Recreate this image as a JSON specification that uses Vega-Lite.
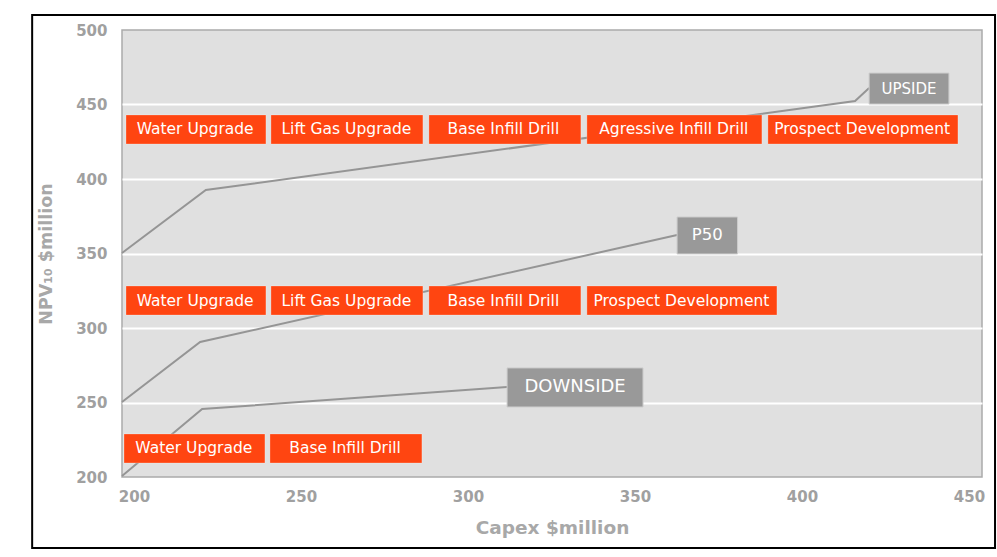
{
  "$schema": "https://vega.github.io/schema/vega-lite/v6.json",
  "width": 860,
  "height": 447,
  "autosize": {"type": "none"},
  "padding": {"left": 122, "top": 30, "right": 15, "bottom": 80},
  "background": "white",
  "config": {
    "view": {"fill": "#e0e0e0", "stroke": "#aaaaaa", "strokeWidth": 1.5},
    "font": "DejaVu Sans"
  },
  "datasets": {
    "frame": [{"x": 169.5, "x2": 457.8, "y": 152.3, "y2": 510.1}],
    "curves": [
      {"scenario": "UPSIDE", "x": 196.4, "y": 350.3},
      {"scenario": "UPSIDE", "x": 221.5, "y": 392.6},
      {"scenario": "UPSIDE", "x": 415.9, "y": 452.3},
      {"scenario": "UPSIDE", "x": 420.1, "y": 461.1},
      {"scenario": "P50", "x": 196.4, "y": 250.3},
      {"scenario": "P50", "x": 219.8, "y": 290.6},
      {"scenario": "P50", "x": 362.6, "y": 362.4},
      {"scenario": "DOWNSIDE", "x": 196.4, "y": 200.7},
      {"scenario": "DOWNSIDE", "x": 220.4, "y": 245.6},
      {"scenario": "DOWNSIDE", "x": 311.7, "y": 260.4}
    ],
    "tasks": [
      {"scenario": "UPSIDE", "task": "Water Upgrade", "x": 197.6, "x2": 239.5, "y": 423.5, "y2": 443.0, "xc": 218.3, "yc": 433.25},
      {"scenario": "UPSIDE", "task": "Lift Gas Upgrade", "x": 241.0, "x2": 286.5, "y": 423.5, "y2": 443.0, "xc": 263.6, "yc": 433.25},
      {"scenario": "UPSIDE", "task": "Base Infill Drill", "x": 288.3, "x2": 333.8, "y": 423.5, "y2": 443.0, "xc": 310.6, "yc": 433.25},
      {"scenario": "UPSIDE", "task": "Agressive Infill Drill", "x": 335.6, "x2": 388.0, "y": 423.5, "y2": 443.0, "xc": 361.6, "yc": 433.25},
      {"scenario": "UPSIDE", "task": "Prospect Development", "x": 389.8, "x2": 446.7, "y": 423.5, "y2": 443.0, "xc": 418.0, "yc": 433.25},
      {"scenario": "P50", "task": "Water Upgrade", "x": 197.6, "x2": 239.5, "y": 308.7, "y2": 328.2, "xc": 218.3, "yc": 318.45},
      {"scenario": "P50", "task": "Lift Gas Upgrade", "x": 241.0, "x2": 286.5, "y": 308.7, "y2": 328.2, "xc": 263.6, "yc": 318.45},
      {"scenario": "P50", "task": "Base Infill Drill", "x": 288.3, "x2": 333.8, "y": 308.7, "y2": 328.2, "xc": 310.6, "yc": 318.45},
      {"scenario": "P50", "task": "Prospect Development", "x": 335.6, "x2": 392.5, "y": 308.7, "y2": 328.2, "xc": 363.9, "yc": 318.45},
      {"scenario": "DOWNSIDE", "task": "Water Upgrade", "x": 197.0, "x2": 239.2, "y": 209.4, "y2": 228.9, "xc": 217.9, "yc": 219.15},
      {"scenario": "DOWNSIDE", "task": "Base Infill Drill", "x": 240.7, "x2": 286.2, "y": 209.4, "y2": 228.9, "xc": 263.2, "yc": 219.15}
    ],
    "labels": [
      {"scenario": "UPSIDE", "x": 420.1, "x2": 444.0, "y": 450.3, "y2": 471.1, "xc": 432.05, "yc": 460.7},
      {"scenario": "P50", "x": 362.6, "x2": 380.7, "y": 349.7, "y2": 374.5, "xc": 371.65, "yc": 362.1},
      {"scenario": "DOWNSIDE", "x": 311.7, "x2": 352.4, "y": 247.0, "y2": 273.2, "xc": 332.05, "yc": 260.1}
    ]
  },
  "encoding": {
    "x": {
      "field": "x", "type": "quantitative", "title": "Capex $million",
      "scale": {"domain": [196.4, 453.9], "nice": false, "zero": false},
      "axis": {"values": [200, 250, 300, 350, 400, 450], "grid": false, "ticks": false, "domain": false,
        "labelFont": "DejaVu Sans", "labelFontSize": 15, "labelFontWeight": "bold", "labelColor": "#a0a0a0", "labelPadding": 12,
        "titleFont": "DejaVu Sans", "titleFontSize": 18.5, "titleFontWeight": "bold", "titleColor": "#a8a8a8", "titlePadding": 14}
    },
    "y": {
      "field": "y", "type": "quantitative", "title": "NPV₁₀ $million",
      "scale": {"domain": [200, 500], "nice": false, "zero": false},
      "axis": {"values": [200, 250, 300, 350, 400, 450, 500], "grid": true, "gridColor": "white", "gridWidth": 2,
        "gridOpacity": {"condition": {"test": "datum.value == 200 || datum.value == 500", "value": 0}, "value": 1},
        "ticks": false, "domain": false,
        "labelFont": "DejaVu Sans", "labelFontSize": 15, "labelFontWeight": "bold", "labelColor": "#a0a0a0", "labelPadding": 15,
        "titleFont": "DejaVu Sans", "titleFontSize": 17.5, "titleFontWeight": "bold", "titleColor": "#a8a8a8", "titlePadding": 20}
    }
  },
  "layer": [
    {
      "data": {"name": "frame"},
      "mark": {"type": "rect", "fill": "transparent", "stroke": "black", "strokeWidth": 2, "clip": false},
      "encoding": {"x2": {"field": "x2"}, "y2": {"field": "y2"}}
    },
    {
      "data": {"name": "curves"},
      "mark": {"type": "line", "color": "#959595", "strokeWidth": 2},
      "encoding": {"detail": {"field": "scenario", "type": "nominal"}}
    },
    {
      "data": {"name": "tasks"},
      "mark": {"type": "rect", "fill": "#ff4511", "stroke": "#ffffff", "strokeOpacity": 0.25, "strokeWidth": 1},
      "encoding": {"x2": {"field": "x2"}, "y2": {"field": "y2"}}
    },
    {
      "data": {"name": "tasks"},
      "mark": {"type": "text", "color": "white", "fontSize": 15.5, "font": "DejaVu Sans", "align": "center", "baseline": "middle"},
      "encoding": {
        "x": {"field": "xc", "type": "quantitative", "title": "Capex $million", "scale": {"domain": [196.4, 453.9], "nice": false, "zero": false},
          "axis": {"values": [200, 250, 300, 350, 400, 450], "grid": false, "ticks": false, "domain": false,
            "labelFont": "DejaVu Sans", "labelFontSize": 15, "labelFontWeight": "bold", "labelColor": "#a0a0a0", "labelPadding": 12,
            "titleFont": "DejaVu Sans", "titleFontSize": 18.5, "titleFontWeight": "bold", "titleColor": "#a8a8a8", "titlePadding": 14}},
        "y": {"field": "yc", "type": "quantitative", "title": "NPV₁₀ $million", "scale": {"domain": [200, 500], "nice": false, "zero": false},
          "axis": {"values": [200, 250, 300, 350, 400, 450, 500], "grid": true, "gridColor": "white", "gridWidth": 2,
            "gridOpacity": {"condition": {"test": "datum.value == 200 || datum.value == 500", "value": 0}, "value": 1},
            "ticks": false, "domain": false,
            "labelFont": "DejaVu Sans", "labelFontSize": 15, "labelFontWeight": "bold", "labelColor": "#a0a0a0", "labelPadding": 15,
            "titleFont": "DejaVu Sans", "titleFontSize": 17.5, "titleFontWeight": "bold", "titleColor": "#a8a8a8", "titlePadding": 20}},
        "text": {"field": "task"}
      }
    },
    {
      "data": {"name": "labels"},
      "mark": {"type": "rect", "fill": "#999999", "stroke": "#cccccc", "strokeWidth": 1},
      "encoding": {"x2": {"field": "x2"}, "y2": {"field": "y2"}}
    },
    {
      "data": {"name": "labels"},
      "mark": {"type": "text", "color": "white", "font": "DejaVu Sans", "align": "center", "baseline": "middle"},
      "encoding": {
        "x": {"field": "xc", "type": "quantitative", "title": "Capex $million", "scale": {"domain": [196.4, 453.9], "nice": false, "zero": false},
          "axis": {"values": [200, 250, 300, 350, 400, 450], "grid": false, "ticks": false, "domain": false,
            "labelFont": "DejaVu Sans", "labelFontSize": 15, "labelFontWeight": "bold", "labelColor": "#a0a0a0", "labelPadding": 12,
            "titleFont": "DejaVu Sans", "titleFontSize": 18.5, "titleFontWeight": "bold", "titleColor": "#a8a8a8", "titlePadding": 14}},
        "y": {"field": "yc", "type": "quantitative", "title": "NPV₁₀ $million", "scale": {"domain": [200, 500], "nice": false, "zero": false},
          "axis": {"values": [200, 250, 300, 350, 400, 450, 500], "grid": true, "gridColor": "white", "gridWidth": 2,
            "gridOpacity": {"condition": {"test": "datum.value == 200 || datum.value == 500", "value": 0}, "value": 1},
            "ticks": false, "domain": false,
            "labelFont": "DejaVu Sans", "labelFontSize": 15, "labelFontWeight": "bold", "labelColor": "#a0a0a0", "labelPadding": 15,
            "titleFont": "DejaVu Sans", "titleFontSize": 17.5, "titleFontWeight": "bold", "titleColor": "#a8a8a8", "titlePadding": 20}},
        "text": {"field": "scenario"},
        "size": {"field": "scenario", "type": "nominal", "scale": {"domain": ["UPSIDE", "P50", "DOWNSIDE"], "range": [15, 18, 18]}, "legend": null}
      }
    }
  ]
}
